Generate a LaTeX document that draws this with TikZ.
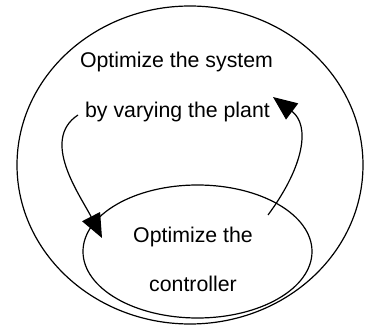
\documentclass[tikz,border=0pt]{standalone}
\usepackage{fontspec}
\setmainfont{Liberation Sans}
\usetikzlibrary{arrows.meta,shapes.geometric}
\begin{document}
\begin{tikzpicture}[x=1pt,y=-1pt,line width=1.2pt,
  txt/.style={font=\fontsize{21.3}{25}\selectfont, anchor=base, inner sep=0pt},
  loop/.style={draw, ellipse, line width=1.2pt, inner sep=0pt},
  arr/.style={-{Triangle[length=24pt,width=20pt]}, line width=1.2pt}]
\useasboundingbox (0,0) rectangle (365,326);
\node[loop, minimum width=346pt, minimum height=318pt] (outer) at (190,165) {};
\node[loop, minimum width=229pt, minimum height=133pt] (inner) at (197.5,251.5) {};
\node[txt] (t1) at (176.5,68) {Optimize the system};
\node[txt] (t2) at (177.5,118) {by varying the plant};
\node[txt] (t3) at (193,243) {Optimize the};
\node[txt] (t4) at (193,292) {controller};
\coordinate (a1s) at (78,115);
\coordinate (a1e) at (102,238);
\draw[arr] (a1s) .. controls (40,140) and (80,195) .. (a1e);
\coordinate (a2s) at (268,215);
\coordinate (a2e) at (273,97);
\draw[arr] (a2s) .. controls (305,165) and (310,125) .. (a2e);
\end{tikzpicture}
\end{document}
